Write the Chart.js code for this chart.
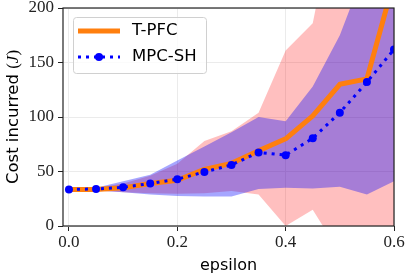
<!DOCTYPE html>
<html>
<head>
<meta charset="utf-8">
<script src="https://cdn.jsdelivr.net/npm/chart.js@4.4.0/dist/chart.umd.min.js"></script>
<style>
  html, body { margin: 0; padding: 0; background: #fff; }
</style>
</head>
<body>
<canvas id="costChart" width="407" height="278"></canvas>
<script>
// values
const epsilon = [0, 0.05, 0.1, 0.15, 0.2, 0.25, 0.3, 0.35, 0.4, 0.45, 0.5, 0.55, 0.6];

const tpfcMean  = [33.5, 33.5, 35, 39, 42, 52, 57.5, 69, 80, 101, 130, 135, 225];
const tpfcUpper = [34, 35, 39, 46, 57, 78, 87, 104, 161, 186, 310, 320, 320];
const tpfcLower = [33, 32.5, 31, 30, 29.5, 30, 32, 29, 0, 15, -25, -40, -30];

const mpcMean  = [33.5, 34, 35.5, 39, 43, 49.5, 56, 67.5, 65, 80.5, 104, 132, 162];
const mpcUpper = [34, 35, 41, 47, 60, 73, 86, 100, 96, 128, 175, 240, 300];
const mpcLower = [33, 32.5, 31, 29, 27.5, 27, 27, 34, 35, 34.5, 36, 29, 41];

const xTicks = [0, 0.2, 0.4, 0.6];
const yTicks = [0, 50, 100, 150, 200];

const pts = arr => arr.map((v, i) => ({ x: epsilon[i], y: v }));

const serifFont = '"Liberation Serif", "Times New Roman", serif';
const tickFont = { family: serifFont, size: 17 };
const sansFont = '"DejaVu Sans", sans-serif';

// black box round the plot area
const frame = {
  id: 'frame',
  afterDraw(chart) {
    const { ctx, chartArea: a } = chart;
    ctx.save();
    ctx.strokeStyle = '#222';
    ctx.lineWidth = 1.2;
    ctx.strokeRect(a.left, a.top, a.right - a.left, a.bottom - a.top);
    ctx.restore();
  }
};

// y title with a math italic J
const yTitle = {
  id: 'yTitle',
  afterDraw(chart) {
    const { ctx, chartArea: a } = chart;
    const parts = [
      ['Cost incurred ', '16.5px ' + sansFont],
      ['(', '17px ' + serifFont],
      ['J', 'italic 17px ' + serifFont],
      [')', '17px ' + serifFont]
    ];
    ctx.save();
    let total = 0;
    parts.forEach(p => { ctx.font = p[1]; total += ctx.measureText(p[0]).width; });
    ctx.translate(17.5, (a.top + a.bottom) / 2);
    ctx.rotate(-Math.PI / 2);
    ctx.fillStyle = '#000';
    ctx.textBaseline = 'alphabetic';
    let x = -total / 2;
    parts.forEach(p => {
      ctx.font = p[1];
      ctx.fillText(p[0], x, 0);
      x += ctx.measureText(p[0]).width;
    });
    ctx.restore();
  }
};

// legend box in the upper left
const legendBox = {
  id: 'legendBox',
  afterDraw(chart) {
    const ctx = chart.ctx;
    ctx.save();
    ctx.fillStyle = 'rgba(255,255,255,0.8)';
    ctx.strokeStyle = '#d0d0d0';
    ctx.lineWidth = 1;
    ctx.beginPath();
    ctx.roundRect(73.5, 17.5, 133, 56, 3);
    ctx.fill();
    ctx.stroke();

    ctx.strokeStyle = '#ff7f0e';
    ctx.lineWidth = 5;
    ctx.beginPath();
    ctx.moveTo(78, 31);
    ctx.lineTo(120, 31);
    ctx.stroke();

    ctx.strokeStyle = '#0000ff';
    ctx.lineWidth = 3;
    ctx.setLineDash([3, 5]);
    ctx.beginPath();
    ctx.moveTo(78, 57);
    ctx.lineTo(120, 57);
    ctx.stroke();
    ctx.setLineDash([]);
    ctx.fillStyle = '#0000ff';
    ctx.beginPath();
    ctx.arc(99, 57, 4, 0, Math.PI * 2);
    ctx.fill();

    ctx.fillStyle = '#000';
    ctx.font = '16.5px ' + sansFont;
    ctx.textBaseline = 'middle';
    ctx.fillText('T-PFC', 132, 31);
    ctx.fillText('MPC-SH', 132, 57);
    ctx.restore();
  }
};

new Chart(document.getElementById('costChart'), {
  type: 'line',
  data: {
    datasets: [
      {
        label: 'MPC-SH', data: pts(mpcMean), order: 0,
        borderColor: '#0000ff', borderWidth: 3, borderDash: [3, 5],
        pointRadius: 4, pointBackgroundColor: '#0000ff', pointBorderWidth: 0,
        fill: false
      },
      {
        label: 'T-PFC', data: pts(tpfcMean), order: 1, clip: 0,
        borderColor: '#ff7f0e', borderWidth: 5, pointRadius: 0,
        borderJoinStyle: 'round', fill: false
      },
      {
        label: 'mpcLower', data: pts(mpcLower), order: 2,
        borderColor: 'transparent', borderWidth: 0, pointRadius: 0, fill: false
      },
      {
        label: 'mpcUpper', data: pts(mpcUpper), order: 2,
        borderColor: 'transparent', borderWidth: 0, pointRadius: 0,
        fill: 2, backgroundColor: 'rgba(0,0,255,0.35)'
      },
      {
        label: 'tpfcLower', data: pts(tpfcLower), order: 3,
        borderColor: 'transparent', borderWidth: 0, pointRadius: 0, fill: false
      },
      {
        label: 'tpfcUpper', data: pts(tpfcUpper), order: 3,
        borderColor: 'transparent', borderWidth: 0, pointRadius: 0,
        fill: 4, backgroundColor: 'rgba(255,0,0,0.25)'
      }
    ]
  },
  options: {
    responsive: false,
    animation: false,
    devicePixelRatio: 1,
    layout: { padding: { top: 8, right: 13, bottom: 0, left: 0 } },
    plugins: {
      legend: { display: false },
      tooltip: { enabled: false }
    },
    scales: {
      x: {
        type: 'linear',
        min: -0.011,
        max: 0.6,
        afterBuildTicks: s => { s.ticks = xTicks.map(v => ({ value: v })); },
        afterFit: s => { s.height = 52; s.paddingLeft = 0; s.paddingRight = 0; },
        ticks: {
          font: tickFont, color: '#222', padding: 1, maxRotation: 0,
          callback: v => v.toFixed(1)
        },
        grid: { color: '#ebebeb', tickColor: '#222', tickLength: 5 },
        border: { display: false },
        title: {
          display: true, text: 'epsilon', color: '#000',
          font: { family: sansFont, size: 16 },
          padding: { top: 0, bottom: 3 }
        }
      },
      y: {
        min: 0,
        max: 200,
        afterBuildTicks: s => { s.ticks = yTicks.map(v => ({ value: v })); },
        afterFit: s => { s.width = 63; s.paddingTop = 0; s.paddingBottom = 0; },
        ticks: { font: tickFont, color: '#222', padding: 4 },
        grid: { color: '#ebebeb', tickColor: '#222', tickLength: 5 },
        border: { display: false }
      }
    }
  },
  plugins: [frame, yTitle, legendBox]
});
</script>
</body>
</html>
